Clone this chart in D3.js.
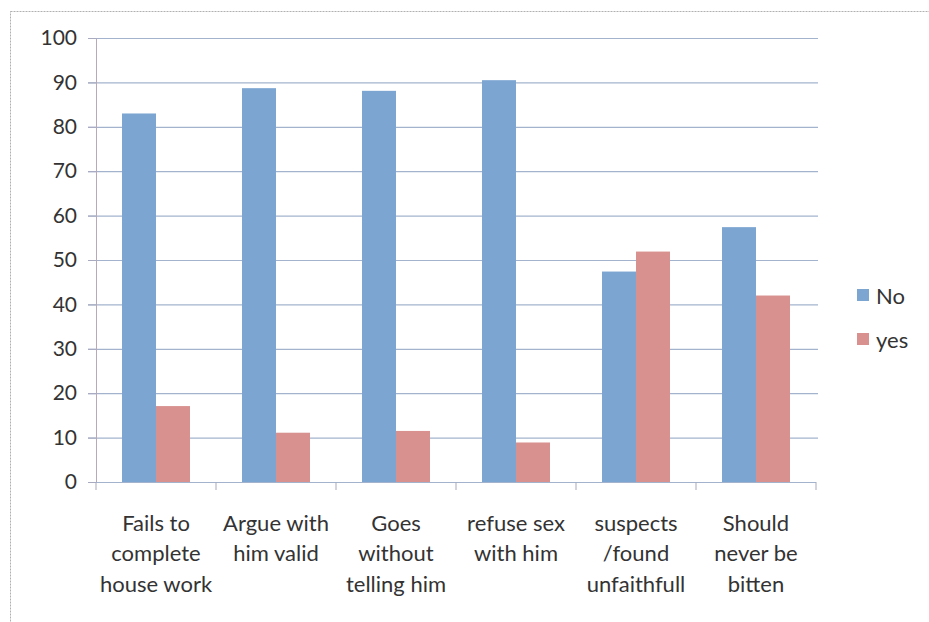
<!DOCTYPE html>
<html><head><meta charset="utf-8">
<script src="https://cdn.jsdelivr.net/npm/d3@7"></script>
<style>body{margin:0;background:#fff;}svg{display:block;font-family:Lato,"Open Sans",sans-serif;}</style>
</head><body>
<svg id="c" width="929" height="622"></svg>
<script>
const categories = [
  ["Fails to","complete","house work"],
  ["Argue with","him valid"],
  ["Goes","without","telling him"],
  ["refuse sex","with him"],
  ["suspects","/found","unfaithfull"],
  ["Should","never be","bitten"]
];
const seriesNames = ["No","yes"];
const noValues  = [83.0, 88.7, 88.1, 90.5, 47.4, 57.4];
const yesValues = [17.1, 11.1, 11.5, 8.9, 51.9, 42.0];
const yTicks = [0,10,20,30,40,50,60,70,80,90,100];
const colors = ["#7ca5d2","#d8918f"];

(function(){
const svg = d3.select("#c");
const pl = 96, pr = 816, pt = 38, pb = 482;

// outer frame
svg.append("rect").attr("x",10.5).attr("y",11.5).attr("width",940).attr("height",640)
  .attr("fill","none").attr("stroke","#b0b0b0").attr("stroke-width",1).attr("stroke-dasharray","2,1");

const idx = categories.map((d,i)=>i);
const x = d3.scaleBand().domain(idx).range([pl,pr]).paddingInner(0).paddingOuter(0);
const y = d3.scaleLinear().domain([0,100]).range([pb,pt]);

// gridlines
svg.append("g").selectAll("line").data(yTicks.filter(t=>t>0)).join("line")
  .attr("x1",pl-8).attr("x2",pr+2)
  .attr("y1",d=>y(d)+0.5).attr("y2",d=>y(d)+0.5)
  .attr("stroke","#a3b3cd").attr("stroke-width",1.2);

// y axis
const yAxis = d3.axisLeft(y).tickValues(yTicks).tickSize(8).tickPadding(11);
const ya = svg.append("g").attr("transform",`translate(${pl},0)`).call(yAxis);
ya.select(".domain").attr("stroke","#b8a8b8");
ya.selectAll(".tick line").attr("stroke","#a9a9bf");
ya.selectAll("text").attr("font-size",21).attr("fill","#333").attr("font-family","Lato,'Open Sans',sans-serif");

// bars
const inner = d3.scaleBand().domain([0,1]).range([0,x.bandwidth()]).paddingOuter(0.765).paddingInner(0);
const g = svg.append("g");
[noValues,yesValues].forEach((vals,s)=>{
  g.selectAll(".b"+s).data(vals).join("rect").attr("class","b"+s)
    .attr("x",(d,i)=>x(i)+inner(s)).attr("width",inner.bandwidth())
    .attr("y",d=>y(d)).attr("height",d=>y(0)-y(d))
    .attr("fill",colors[s]);
});

// x axis
const xa = svg.append("g").attr("transform",`translate(0,${pb})`);
xa.append("line").attr("x1",pl).attr("x2",pr).attr("y1",0.5).attr("y2",0.5).attr("stroke","#a3b3cd").attr("stroke-width",1.2);
const xt = d3.range(categories.length+1).map(i=>pl + i*x.bandwidth());
xa.selectAll(".xt").data(xt).join("line").attr("class","xt").attr("x1",d=>d).attr("x2",d=>d).attr("y1",0).attr("y2",8).attr("stroke","#a9a9bf");
xa.selectAll(".cl").data(categories).join("text").attr("class","cl")
  .attr("x",(d,i)=>x(i)+x.bandwidth()/2).attr("text-anchor","middle")
  .attr("font-size",22).attr("fill","#333")
  .each(function(d){
    const t=d3.select(this);
    d.forEach((line,j)=>t.append("tspan").attr("x",t.attr("x")).attr("y",48.5+j*30.5).text(line));
  });

// legend
const lg = svg.append("g");
seriesNames.forEach((n,i)=>{
  lg.append("rect").attr("x",857).attr("y",289+i*44).attr("width",12).attr("height",12).attr("fill",colors[i]);
  lg.append("text").attr("x",876).attr("y",304+i*44).attr("font-size",22).attr("fill","#333").text(n);
});
})();
</script>
</body></html>
